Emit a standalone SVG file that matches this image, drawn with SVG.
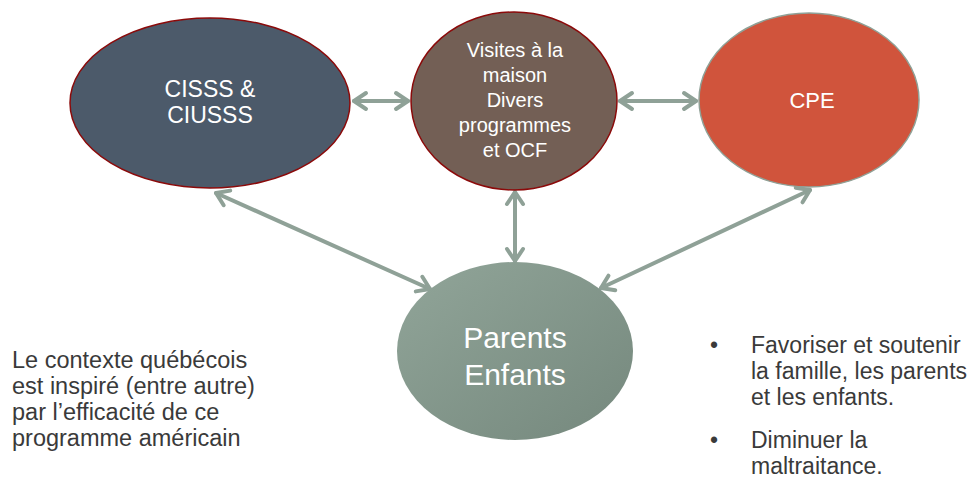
<svg xmlns="http://www.w3.org/2000/svg" width="973" height="494" viewBox="0 0 973 494">
  <style>
    .node-text { font-family: "Liberation Sans", Arial, sans-serif; fill: #ffffff; text-anchor: middle; }
    .body-text { font-family: "Liberation Sans", Arial, sans-serif; fill: #3a3a3a; }
    .left { font-size: 23.5px; }
    .right { font-size: 23px; }
    .conn { stroke: #8FA197; stroke-width: 4; fill: none; stroke-linecap: round; }
  </style>
  <defs>
    <marker id="chev" markerUnits="userSpaceOnUse" markerWidth="20" markerHeight="22" refX="15" refY="11" orient="auto-start-reverse" viewBox="0 0 20 22">
      <path d="M3,3 L15,11 L3,19" fill="none" stroke="#8FA197" stroke-width="4" stroke-linecap="round" stroke-linejoin="round"/>
    </marker>
    <linearGradient id="pgrad" x1="0" y1="0" x2="1" y2="1">
      <stop offset="0" stop-color="#91A599"/>
      <stop offset="1" stop-color="#75887D"/>
    </linearGradient>
  </defs>
  <rect width="973" height="494" fill="#ffffff"/>

  <g id="connectors">
    <line class="conn" x1="354" y1="101" x2="408" y2="101" marker-start="url(#chev)" marker-end="url(#chev)"/>
    <line class="conn" x1="620" y1="101" x2="696" y2="101" marker-start="url(#chev)" marker-end="url(#chev)"/>
    <line class="conn" x1="515" y1="192" x2="515" y2="261" marker-start="url(#chev)" marker-end="url(#chev)"/>
    <line class="conn" x1="216" y1="193" x2="430" y2="289" marker-start="url(#chev)" marker-end="url(#chev)"/>
    <line class="conn" x1="810" y1="190" x2="601" y2="288" marker-start="url(#chev)" marker-end="url(#chev)"/>
  </g>

  <g id="node-cisss">
    <ellipse cx="210" cy="103" rx="140" ry="85" fill="#4C5A6A" stroke="#8B0A0A" stroke-width="1.5"/>
    <text class="node-text" x="210" y="97" font-size="23">CISSS &amp;</text>
    <text class="node-text" x="210" y="123" font-size="23">CIUSSS</text>
  </g>

  <g id="node-visites">
    <ellipse cx="514" cy="101" rx="103" ry="89" fill="#735F55" stroke="#8B0A0A" stroke-width="1.5"/>
    <text class="node-text" x="515" y="57" font-size="20">Visites à la</text>
    <text class="node-text" x="515" y="82" font-size="20">maison</text>
    <text class="node-text" x="515" y="107" font-size="20">Divers</text>
    <text class="node-text" x="515" y="132" font-size="20">programmes</text>
    <text class="node-text" x="515" y="157" font-size="20">et OCF</text>
  </g>

  <g id="node-cpe">
    <ellipse cx="809" cy="100" rx="110" ry="87" fill="#D0543C" stroke="#8FA197" stroke-width="1.5"/>
    <text class="node-text" x="812" y="108" font-size="22">CPE</text>
  </g>

  <g id="node-parents">
    <ellipse cx="515" cy="351" rx="118" ry="89" fill="url(#pgrad)"/>
    <text class="node-text" x="515" y="348" font-size="30">Parents</text>
    <text class="node-text" x="515" y="385" font-size="30">Enfants</text>
  </g>

  <g id="text-left">
    <text class="body-text left" x="12" y="368">Le contexte québécois</text>
    <text class="body-text left" x="12" y="394">est inspiré (entre autre)</text>
    <text class="body-text left" x="12" y="420">par l’efficacité de ce</text>
    <text class="body-text left" x="12" y="446">programme américain</text>
  </g>

  <g id="text-right">
    <text class="body-text right" x="710" y="353">•</text>
    <text class="body-text right" x="751" y="353">Favoriser et soutenir</text>
    <text class="body-text right" x="751" y="379">la famille, les parents</text>
    <text class="body-text right" x="751" y="405">et les enfants.</text>
    <text class="body-text right" x="710" y="448">•</text>
    <text class="body-text right" x="751" y="448">Diminuer la</text>
    <text class="body-text right" x="751" y="474">maltraitance.</text>
  </g>
</svg>
